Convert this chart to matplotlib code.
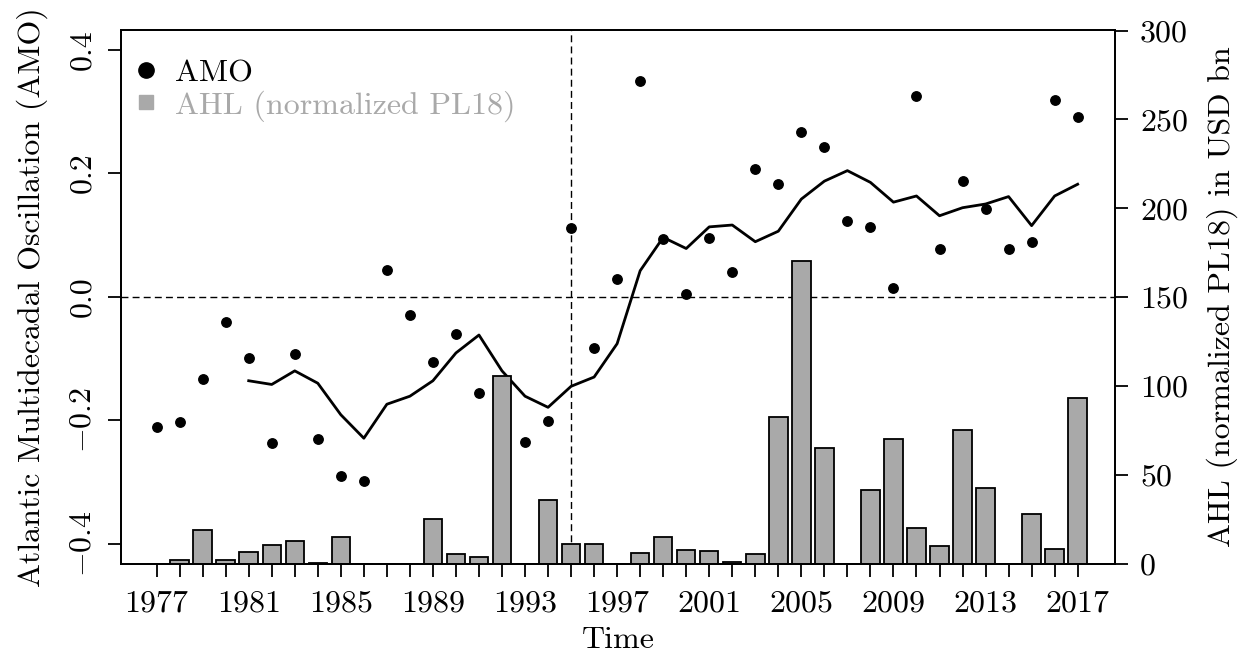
import numpy as np
import matplotlib
matplotlib.use("Agg")
import matplotlib.pyplot as plt
from matplotlib.lines import Line2D

plt.rcParams['font.family'] = 'cmr10'
plt.rcParams['mathtext.fontset'] = 'cm'
plt.rcParams['axes.unicode_minus'] = False

years = np.arange(1977, 2018)

# AMO index (points); 1992 hides behind its bar
amo = [-0.211, -0.202, -0.133, -0.041, -0.099, -0.236, -0.093, -0.230, -0.290, -0.298,
       0.044, -0.029, -0.106, -0.061, -0.156, -0.250, -0.235, -0.201, 0.111, -0.083,
       0.028, 0.349, 0.093, 0.004, 0.095, 0.040, 0.206, 0.182, 0.267, 0.242,
       0.123, 0.113, 0.014, 0.325, 0.077, 0.188, 0.142, 0.077, 0.089, 0.318, 0.291]

# smoothed AMO (line), starts in 1981
line_years = np.arange(1981, 2018)
amo_line = [-0.136, -0.142, -0.120, -0.140, -0.191, -0.229, -0.174, -0.161, -0.136, -0.091,
            -0.062, -0.120, -0.161, -0.179, -0.145, -0.130, -0.076, 0.042, 0.096, 0.078,
            0.113, 0.116, 0.089, 0.106, 0.158, 0.187, 0.204, 0.185, 0.153, 0.163,
            0.131, 0.144, 0.150, 0.162, 0.115, 0.163, 0.182]

# AHL (normalized PL18), USD bn
ahl = [0, 2.5, 19.2, 2.5, 6.6, 10.4, 13.0, 0.6, 15.3, 0,
       0, 0, 25.1, 5.5, 3.7, 105.7, 0, 36.1, 11.3, 11.3,
       0, 6.1, 15.3, 8.0, 7.2, 1.3, 5.5, 82.4, 170.3, 65.1,
       0, 41.6, 70.5, 20.4, 10.0, 75.2, 42.5, 0, 28.3, 8.2, 93.6]

label_years = np.arange(1977, 2018, 4)
amo_ticks = [-0.4, -0.2, 0.0, 0.2, 0.4]
amo_ticklabels = ['$-0.4$', '$-0.2$', '0.0', '0.2', '0.4']
ahl_ticks = [0, 50, 100, 150, 200, 250, 300]

fs = 23
bar_gray = '#a9a9a9'

fig = plt.figure(figsize=(12.48, 6.52), dpi=100)
ax = fig.add_axes([0.0967, 0.135, 0.7967, 0.819])

ax.axhline(0, color='black', lw=1.0, ls=(0, (5, 3)), zorder=1)
ax.axvline(1995, color='black', lw=1.0, ls=(0, (5, 3)), zorder=1)
ax.plot(years, amo, 'o', color='black', markersize=6.8, zorder=2)
ax.plot(line_years, amo_line, color='black', lw=2.0, zorder=3)

ax.set_xlim(1975.44, 2018.62)
ax.set_ylim(-0.4325, 0.4316)
ax.set_yticks(amo_ticks)
ax.set_yticklabels(amo_ticklabels, fontsize=fs)
for t in ax.get_yticklabels():
    t.set_rotation(90)
    t.set_va('center')
    t.set_ha('right')
    t.set_rotation_mode('default')
ax.set_xticks(label_years)
ax.set_xticklabels([str(y) for y in label_years], fontsize=fs)
ax.set_xticks(years, minor=True)
ax.tick_params(axis='both', which='both', direction='out', length=9.5, width=1.3)
ax.tick_params(axis='x', which='both', pad=9)
ax.tick_params(axis='y', pad=8)
ax.set_xlabel('Time', fontsize=fs, labelpad=7)
ax.set_ylabel('Atlantic Multidecadal Oscillation (AMO)', fontsize=fs, labelpad=15)

ax2 = ax.twinx()
ax2.bar(years, ahl, width=0.8, color=bar_gray, edgecolor='black', lw=1.3, zorder=2)
ax2.set_ylim(0, 300.3)
ax2.set_yticks(ahl_ticks)
ax2.set_yticklabels([str(v) for v in ahl_ticks], fontsize=fs)
ax2.tick_params(axis='y', direction='out', length=9.5, width=1.3, pad=8.5)
ax2.set_ylabel('AHL (normalized PL18) in USD bn', fontsize=fs, labelpad=13)

for a in (ax, ax2):
    for s in a.spines.values():
        s.set_linewidth(1.3)

handles = [Line2D([], [], ls='none', marker='o', color='black', markersize=11),
           Line2D([], [], ls='none', marker='s', color=bar_gray, markersize=10.5)]
ax2.legend(handles, ['AMO', 'AHL (normalized PL18)'], loc='upper left', frameon=False,
           fontsize=fs, handlelength=0.8, handletextpad=0.5, labelspacing=0.1,
           borderaxespad=0, bbox_to_anchor=(0.0, 0.97), labelcolor=['black', bar_gray])

fig.savefig('out.png', dpi=100)
